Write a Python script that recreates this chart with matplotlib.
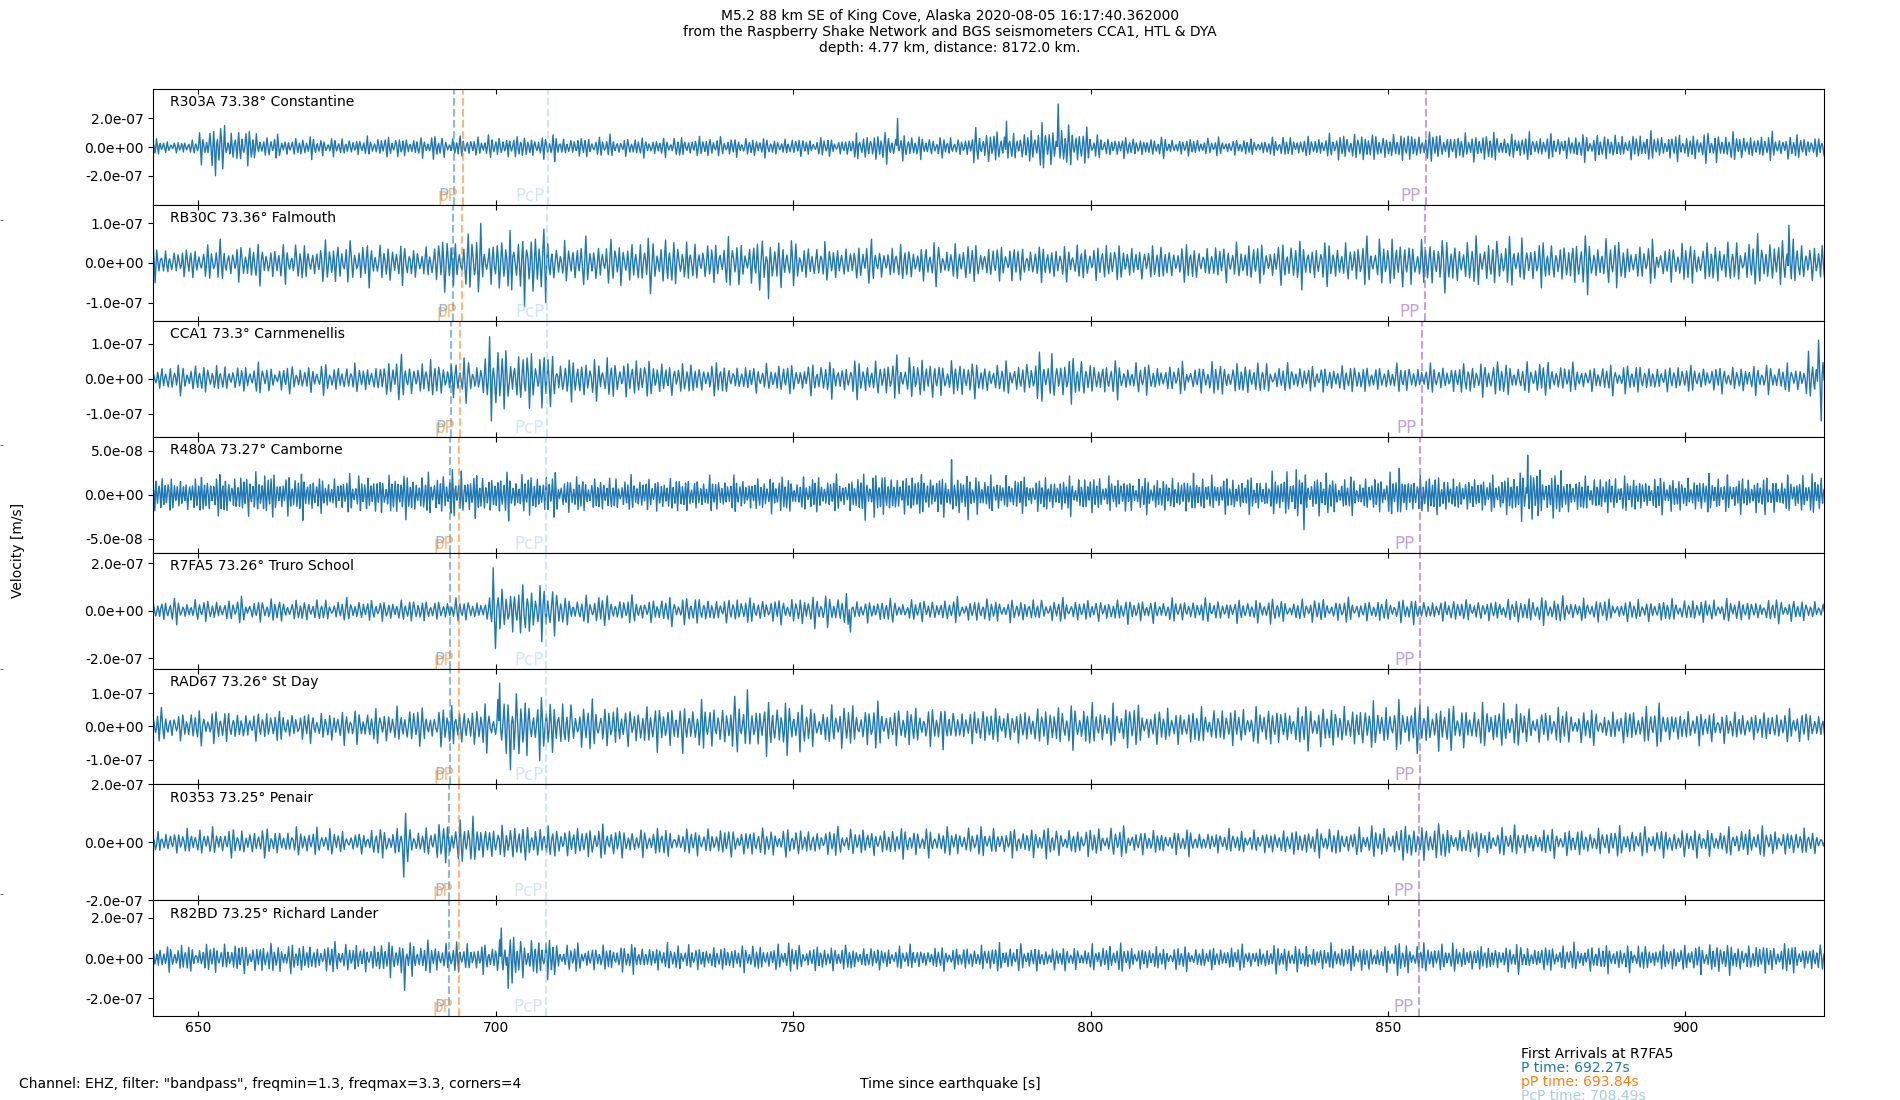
import numpy as np
import matplotlib
matplotlib.use('Agg')
import matplotlib.pyplot as plt
from matplotlib.ticker import FormatStrFormatter
from matplotlib.transforms import blended_transform_factory

# ---------------- data ----------------
stations = ['R303A', 'RB30C', 'CCA1', 'R480A', 'R7FA5', 'RAD67', 'R0353', 'R82BD']
distances = ['73.38', '73.36', '73.3', '73.27', '73.26', '73.26', '73.25', '73.25']
places = ['Constantine', 'Falmouth', 'Carnmenellis', 'Camborne', 'Truro School',
          'St Day', 'Penair', 'Richard Lander']

# phase arrival times [s] per station
p_times = [692.93, 692.82, 692.49, 692.33, 692.27, 692.27, 692.22, 692.22]
pp_depth_times = [694.50, 694.39, 694.06, 693.90, 693.84, 693.84, 693.79, 693.79]
pcp_times = [708.70, 708.66, 708.56, 708.51, 708.49, 708.49, 708.47, 708.47]
pp_times = [856.4, 856.2, 855.7, 855.4, 855.3, 855.3, 855.2, 855.2]

# envelope (max |velocity|, 1e-7 m/s) per 10 s window starting at 640 s
env_start = 640.0
env_step = 10.0
env_R303A = [0.6, 1.6, 0.9, 0.8, 0.9, 0.9, 1.0, 0.9, 0.8, 0.9, 0.8, 0.8, 1.2, 0.9, 1.4,
             1.8, 0.9, 0.8, 0.7, 0.9, 1.2, 1.3, 1.2, 1.1, 1.1, 1.2, 1.2, 1.1, 1.0]
env_RB30C = [0.5, 0.6, 0.6, 0.7, 0.6, 0.9, 1.0, 0.7, 0.8, 0.7, 0.8, 0.6, 0.6, 0.6, 0.6,
             0.6, 0.6, 0.6, 0.6, 0.7, 0.7, 0.8, 0.8, 0.7, 0.8, 0.6, 0.7, 0.8, 0.6]
env_CCA1 = [0.5, 0.5, 0.5, 0.5, 0.7, 0.7, 1.1, 0.8, 0.7, 0.6, 0.5, 0.6, 0.7, 0.7, 0.6,
            0.8, 0.6, 0.5, 0.6, 0.5, 0.5, 0.5, 0.6, 0.6, 0.5, 0.5, 0.5, 0.5, 0.9]
env_R480A = [0.25, 0.30, 0.30, 0.25, 0.30, 0.30, 0.30, 0.25, 0.25, 0.25, 0.25, 0.25, 0.30, 0.30, 0.25,
             0.25, 0.25, 0.25, 0.25, 0.30, 0.25, 0.30, 0.25, 0.35, 0.25, 0.25, 0.25, 0.25, 0.25]
env_R7FA5 = [0.6, 0.6, 0.6, 0.6, 0.6, 0.6, 1.5, 0.8, 0.7, 0.7, 0.7, 0.8, 0.6, 0.6, 0.6,
             0.6, 0.6, 0.6, 0.6, 0.6, 0.6, 0.6, 0.6, 0.7, 0.6, 0.6, 0.6, 0.6, 0.5]
env_RAD67 = [0.6, 0.6, 0.6, 0.6, 0.7, 0.8, 1.2, 0.9, 0.8, 0.9, 1.0, 0.8, 0.8, 0.7, 0.7,
             0.8, 0.8, 0.7, 0.7, 0.8, 0.8, 0.9, 0.8, 0.7, 0.6, 0.7, 0.6, 0.6, 0.6]
env_R0353 = [0.5, 0.6, 0.6, 0.5, 0.7, 0.9, 0.8, 0.7, 0.6, 0.6, 0.6, 0.6, 0.6, 0.6, 0.6,
             0.6, 0.6, 0.5, 0.5, 0.6, 0.6, 0.8, 0.6, 0.6, 0.6, 0.6, 0.6, 0.6, 0.5]
env_R82BD = [0.8, 0.9, 0.9, 0.9, 1.0, 0.9, 1.3, 0.8, 0.8, 0.8, 0.8, 0.8, 0.7, 0.7, 0.8,
             0.7, 0.8, 0.7, 0.7, 0.8, 0.8, 0.9, 0.8, 0.8, 0.8, 0.8, 0.9, 0.9, 0.8]
envelopes = [env_R303A, env_RB30C, env_CCA1, env_R480A, env_R7FA5, env_RAD67, env_R0353, env_R82BD]
env_unit = 1e-7

# isolated large peaks: (time [s], velocity [m/s])
spikes = [
    [(652.8, -2.0e-7), (654.5, 1.5e-7), (767.6, 2.0e-7), (786.0, 1.8e-7), (794.5, 3.0e-7)],
    [(697.5, 1.0e-7), (704.8, -1.1e-7), (745.8, -0.9e-7), (917.5, 0.95e-7)],
    [(699.0, 1.2e-7), (699.4, -1.2e-7), (922.6, 1.1e-7), (923.0, -1.2e-7)],
    [(776.7, 4.0e-8), (835.8, -4.0e-8), (873.5, 4.5e-8)],
    [(699.6, 1.8e-7), (700.0, -1.6e-7), (759.5, -0.9e-7)],
    [(700.8, 1.3e-7), (702.5, -1.3e-7), (742.5, 1.1e-7)],
    [(684.6, -1.2e-7), (685.0, 1.0e-7)],
    [(684.8, -1.6e-7), (700.9, 1.5e-7), (702.2, -1.5e-7)],
]

# typed peak-to-peak variation patterns (half-period in s, relative peak heights, mid wiggle)
half_periods = [0.36, 0.30, 0.40, 0.33, 0.28, 0.38, 0.44, 0.31, 0.35, 0.39, 0.29, 0.34, 0.42]
peak_factors = [0.45, 0.70, 0.95, 0.80, 0.55, 0.35, 0.60, 0.85, 1.00, 0.65, 0.40, 0.30,
                0.50, 0.75, 0.55, 0.38, 0.62, 0.90, 0.72, 0.48, 0.33, 0.58, 0.82, 0.68,
                0.44, 0.52, 0.78, 0.97, 0.60, 0.42, 0.36]
slow_factors = [1.00, 0.75, 0.60, 0.90, 0.65, 1.00, 0.80, 0.55, 0.85, 0.95, 0.60, 0.80,
                0.70, 1.00, 0.60, 0.90, 0.75]
slow_len = 4
mid_wiggles = [0.10, -0.12, 0.04, 0.16, -0.06, 0.08, -0.14]
period_scale = [0.85, 1.0, 1.0, 0.72, 1.0, 1.0, 1.0, 0.85]

# axis settings per panel
y_ticks = [2e-7, 1e-7, 1e-7, 5e-8, 2e-7, 1e-7, 2e-7, 2e-7]
y_lims = [4.04e-7, 1.46e-7, 1.65e-7, 6.6e-8, 2.44e-7, 1.74e-7, 2.0e-7, 2.88e-7]
x_start, x_end = 642.4, 923.3

phase_names = ['P', 'pP', 'PcP', 'PP']
phase_times = [p_times, pp_depth_times, pcp_times, pp_times]
phase_colors = ['#1f77b4', '#ff7f0e', '#a6cee3', '#9467bd']
phase_alpha = [0.5, 0.55, 0.5, 0.6]
label_offsets = [0.9, 0.9, 0.5, 0.9]

title = ("M5.2 88 km SE of King Cove, Alaska 2020-08-05 16:17:40.362000\n"
         "from the Raspberry Shake Network and BGS seismometers CCA1, HTL & DYA\n"
         "depth: 4.77 km, distance: 8172.0 km.")
arrival_lines = ['First Arrivals at R7FA5', 'P time: 692.27s', 'pP time: 693.84s', 'PcP time: 708.49s']
arrival_colors = ['black', '#1f77b4', '#ff7f0e', '#a6cee3']


def build_trace(env, spk, scale, off_h, off_a, off_s):
    ts, vs = [], []
    t = x_start
    sign = 1.0
    k = 0
    used = set()
    while t <= x_end + 0.5:
        hp = half_periods[(k + off_h) % len(half_periods)] * scale
        w = min(int((t - env_start) // env_step), len(env) - 1)
        e = env[w] * env_unit
        f = peak_factors[(k + off_a) % len(peak_factors)]
        s = slow_factors[((k // slow_len) + off_s) % len(slow_factors)]
        v = sign * e * f * s
        for j, (st, sv) in enumerate(spk):
            if j not in used and abs(st - t) < hp * 0.6:
                v = sv
                sign = np.sign(sv)
                used.add(j)
                break
        ts.append(t)
        vs.append(v)
        ts.append(t + hp * 0.5)
        vs.append(e * s * mid_wiggles[(k + off_a) % len(mid_wiggles)])
        t += hp
        sign = -sign
        k += 1
    return np.array(ts), np.array(vs)


# ---------------- figure ----------------
fig, axes = plt.subplots(len(stations), 1, figsize=(19, 11), dpi=100, sharex=True)
fig.subplots_adjust(left=0.0806, right=0.960, top=0.919, bottom=0.0762, hspace=0)

for i, ax in enumerate(axes):
    ts, vs = build_trace(envelopes[i], spikes[i], period_scale[i], 3 * i, 7 * i, 5 * i)
    ax.plot(ts, vs, color='#1f77b4', lw=1.0)
    ax.set_xlim(x_start, x_end)
    ax.set_ylim(-y_lims[i], y_lims[i])
    ax.set_yticks([-y_ticks[i], 0, y_ticks[i]])
    ax.yaxis.set_major_formatter(FormatStrFormatter('%.1e'))
    ax.tick_params(axis='x', direction='in', top=True, bottom=True)
    ax.text(0.01, 0.85, f'{stations[i]} {distances[i]}\u00b0 {places[i]}',
            transform=ax.transAxes, fontsize=10)
    trans = blended_transform_factory(ax.transData, ax.transAxes)
    for name, times, col, al, off in zip(phase_names, phase_times, phase_colors,
                                         phase_alpha, label_offsets):
        ax.axvline(times[i], color=col, ls='--', lw=1.5, alpha=al)
        ax.text(times[i] - off, 0.0, name, color=col, alpha=al, ha='right', va='bottom',
                fontsize=12, transform=trans)
    if i < len(stations) - 1:
        ax.tick_params(axis='x', labelbottom=False)

axes[-1].set_xticks([650, 700, 750, 800, 850, 900])

fig.suptitle(title, x=0.5, y=0.992, va='top', fontsize=10)
fig.text(0.0097, 0.5, 'Velocity [m/s]', rotation=90, va='center', ha='center', fontsize=10)
fig.text(0.5, 0.0144, 'Time since earthquake [s]', ha='center', va='center', fontsize=10)
fig.text(0.0102, 0.0144, 'Channel: EHZ, filter: "bandpass", freqmin=1.3, freqmax=3.3, corners=4',
         ha='left', va='center', fontsize=10)
for j, (line, col) in enumerate(zip(arrival_lines, arrival_colors)):
    fig.text(0.8005, 0.042 - 0.0128 * j, line, color=col, ha='left', va='center', fontsize=10)

# tiny stray tick marks at the very left edge of the figure
edge_ax = fig.add_axes([0.0, -0.0174, 0.0005, 1.022], frameon=False)
edge_ax.set_xticks([])
edge_ax.set_ylim(0, 1)
edge_ax.set_yticks([0.2, 0.4, 0.6, 0.8])
edge_ax.tick_params(axis='y', direction='in', length=2, width=0.6, labelleft=False, color='#555555')
edge_ax.patch.set_alpha(0)

fig.savefig('out.png', dpi=100)
